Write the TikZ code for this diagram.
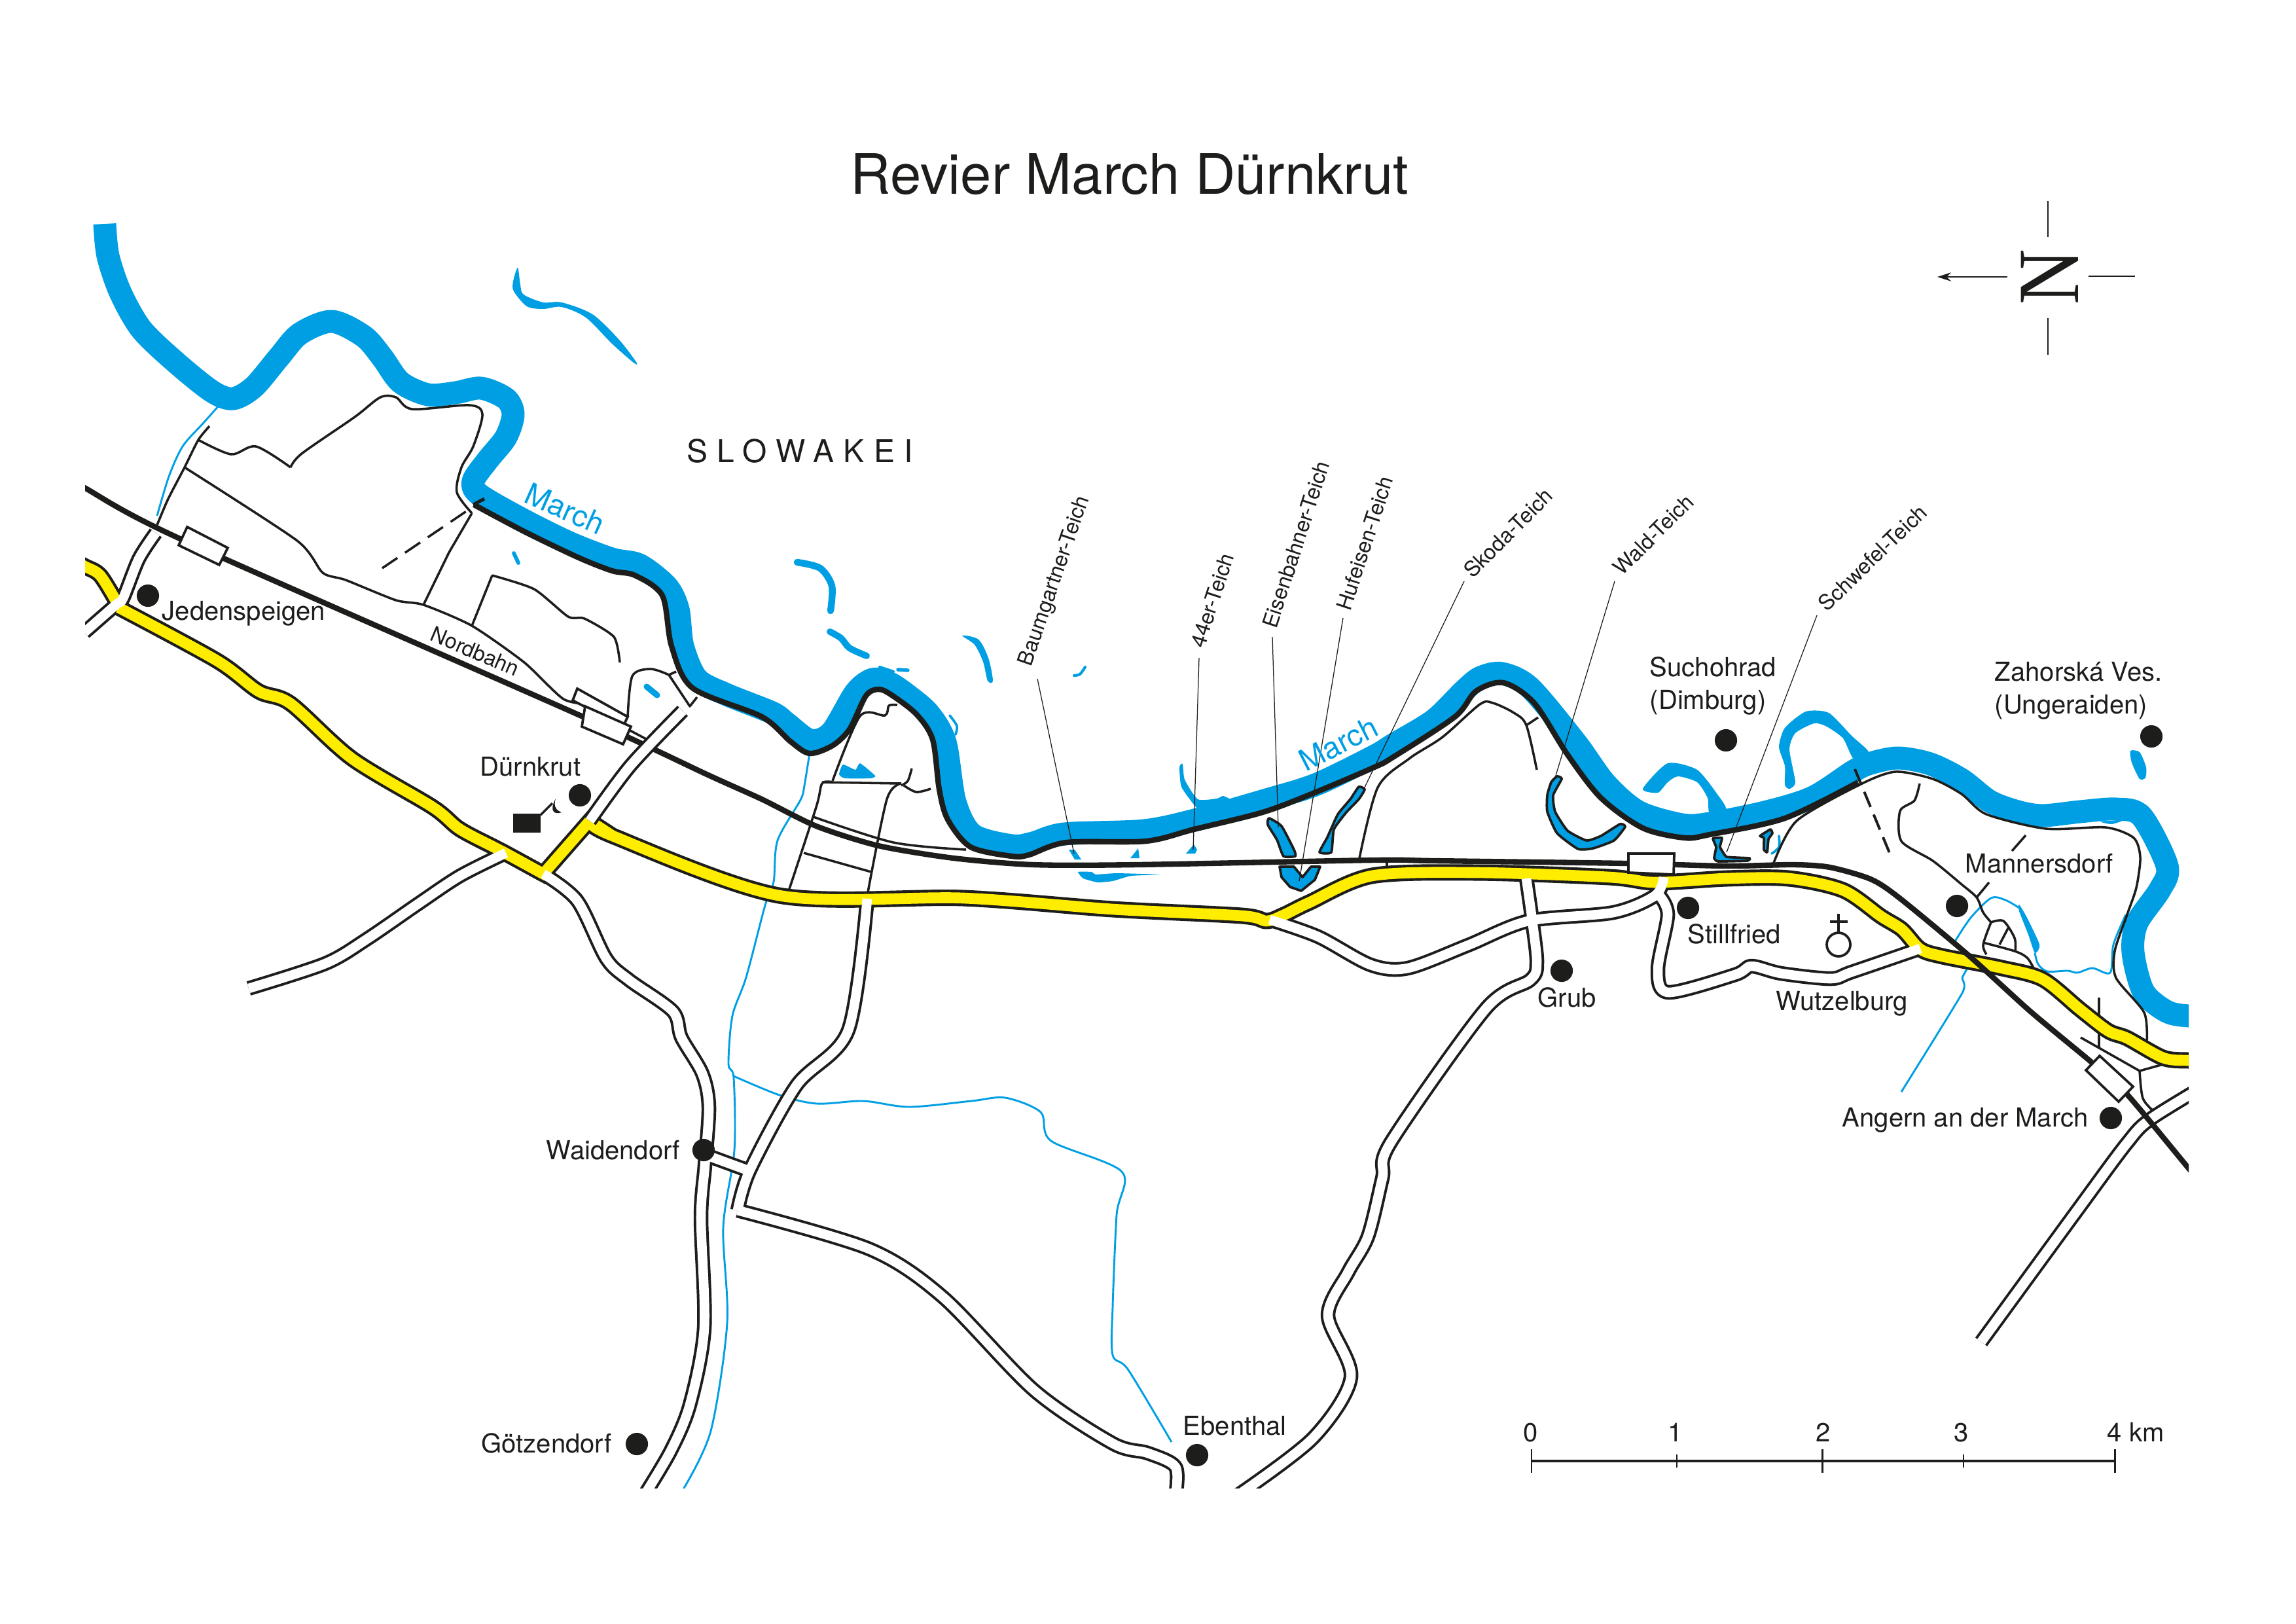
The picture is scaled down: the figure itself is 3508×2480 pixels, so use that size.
\documentclass[tikz,border=0pt]{standalone}
\usepackage{fontspec}
\setmainfont{TeX Gyre Heros}
\newfontfamily\nfont{Liberation Serif}
\usetikzlibrary{arrows.meta}
\definecolor{rivblue}{HTML}{009FE3}
\definecolor{inkblack}{HTML}{1D1D1B}
\definecolor{roadyellow}{HTML}{FFED00}
\tikzset{
  sm/.style={smooth,tension=.5},
  river/.style={draw=rivblue,line width=8.4pt,line join=round},
  bank/.style={draw=inkblack,line width=2pt,line join=round},
  stream/.style={draw=rivblue,line width=.7pt,line join=round},
  track/.style={draw=inkblack,line width=.85pt,line join=round},
  blob/.style={fill=rivblue},
  armline/.style={draw=rivblue,line cap=round},
  pond/.style={fill=rivblue,draw=inkblack,line width=.9pt,line join=round},
  roadcase/.style={draw=inkblack,line width=5.4pt,line join=round},
  roadfill/.style={draw=white,line width=3.5pt,line join=round},
  ycase/.style={draw=inkblack,line width=6pt,line join=round},
  yfill/.style={draw=roadyellow,line width=4pt,line join=round},
  rail/.style={draw=inkblack,line width=2pt,line join=round},
  boxb/.style={draw=inkblack,fill=white,line width=.9pt,line join=miter},
  leader/.style={draw=inkblack,line width=.3pt},
  dot/.style={fill=inkblack},
  lab/.style={inner sep=0pt,text=inkblack,font=\fontsize{9.6}{11.5}\selectfont},
  plab/.style={inner sep=0pt,text=inkblack,font=\fontsize{7.8}{10}\selectfont},
  rlab/.style={inner sep=0pt,text=rivblue,font=\fontsize{11}{13}\selectfont},
}
\newcommand{\allroads}{%
 \R{(129,966)(177,924)(188,914)(212,854)(238,814)}%
 \R{(773,1303)(703,1338)(640,1380)(560,1435)(497,1472)(380,1510)}%
 \R{(830,1335)(882,1376)(926,1464)(961,1497)(1028,1545)(1041,1585)(1073,1640)(1083,1691)(1077,1780)(1071,1860)(1076,2029)(1054,2146)(1025,2216)(984,2285)}%
 \R{(1080,1765)(1140,1787)}%
 \R{(1325,1373)(1296,1574)(1217,1658)(1146,1787)(1127,1849)}%
 \R{(1127,1849)(1328,1908)(1440,1981)(1580,2124)(1700,2205)(1754,2220)(1796,2241)(1796,2285)}%
 \R{(1940,1405)(2014,1431)(2094,1474)(2151,1479)(2243,1444)(2335,1407)(2465,1394)(2529,1368)(2542,1340)}%
 \R{(2332,1342)(2341,1406)(2348,1470)(2338,1497)(2270,1541)(2125,1745)(2112,1800)(2090,1889)(2060,1943)(2029,2010)(2064,2104)(2006,2197)(1890,2285)}%
 \R{(2536,1369)(2548,1398)(2533,1481)(2549,1516)(2651,1489)(2676,1476)(2721,1487)(2797,1495)(2829,1485)(2934,1449)}%
 \R{(3400,1640)(3288,1708)(3250,1746)(3173,1850)(3027,2050)}%
}
\newcommand{\durnroad}{\R{(901,1254)(963,1170)(1043,1086)}}
\newcommand{\yellowroads}{%
 \Y{(100,850)(129,865)(153,879)(179,921)}%
 \Y{(181,928)(331,1009)(395,1056)(444,1075)(538,1159)(661,1233)(703,1267)(766,1300)(830,1335)}%
 \Y{(901,1254)(936,1277)(1190,1368)(1472,1372)(1700,1389)(1897,1399)(1935,1407)(1961,1398)(2000,1379)(2096,1338)(2255,1333)(2459,1340)(2529,1348)(2638,1342)(2733,1342)(2816,1360)(2874,1400)(2906,1420)(2934,1450)(2968,1461)(3059,1479)(3121,1496)(3178,1542)(3221,1575)(3250,1586)(3305,1616)(3344,1620)(3400,1620)}%
}
\begin{document}
\begin{tikzpicture}[x=.24pt,y=-.24pt]
\useasboundingbox (0,0) rectangle (3508,2480);
\fill[white] (0,0) rectangle (3508,2480);
\node[inner sep=0pt,text=inkblack,font=\fontsize{20.4}{24}\selectfont] (title) at (1726,266) {Revier March Dürnkrut};
% north sign
\node[inner sep=0pt,text=inkblack,rotate=90,xscale=.88,font=\fontsize{32}{36}\nfont] (north) at (3132,423) {N};
\coordinate (nt1) at (3129,307); \coordinate (nt2) at (3129,362);
\coordinate (nb1) at (3129,486); \coordinate (nb2) at (3129,542);
\coordinate (nl1) at (3067,423); \coordinate (nl2) at (2960,423);
\coordinate (nr1) at (3191,422); \coordinate (nr2) at (3262,422);
\draw[inkblack,line width=.55pt] (nt1)--(nt2) (nb1)--(nb2) (nr1)--(nr2);
\draw[inkblack,line width=.55pt,-{Stealth[length=5pt,width=3.2pt,inset=1.6pt]}] (nl1)--(nl2);
\begin{scope}
\clip (130,300) rectangle (3344,2273);
% streams
\draw[stream] plot[sm] coordinates {(335,619)(310,647)(279,682)(258,728)(240,788)};
\draw[stream] plot[sm] coordinates {(1237,1150)(1229,1200)(1223,1222)(1188,1284)(1182,1347)(1169,1383)(1140,1493)(1119,1552)(1113,1625)(1121,1647)(1122,1757)(1105,1875)(1111,2021)(1086,2186)(1044,2275)};
\draw[stream] plot[sm] coordinates {(1121,1644)(1191,1673)(1248,1686)(1319,1682)(1389,1691)(1484,1682)(1536,1677)(1590,1699)(1606,1743)(1714,1790)(1706,1856)(1700,1996)(1700,2070)(1724,2093)(1790,2203)};
\draw[stream] plot[smooth,tension=.3] coordinates {(2905,1668)(2998,1517)(2998,1494)(3008,1476)};
\draw[stream] plot[sm] coordinates {(2987,1438)(3011,1402)(3042,1372)(3064,1375)(3085,1387)};
\draw[stream] plot[sm] coordinates {(3109,1456)(3114,1473)(3128,1484)(3159,1483)(3174,1486)(3197,1479)(3224,1486)(3229,1443)(3248,1397)};
% March
\draw[river] plot[sm] coordinates {(160,342)(165,391)(184,447)(216,503)(268,553)(324,598)(356,609)(388,591)(426,546)(458,510)(507,491)(556,514)(584,546)(612,584)(654,603)(696,600)(735,593)(773,609)(784,633)(773,668)(745,703)(723,735)(733,756)(801,795)(872,830)(935,854)(977,863)(1019,896)(1036,931)(1043,987)(1065,1037)(1110,1061)(1180,1089)(1202,1105)(1238,1131)(1270,1119)(1307,1058)(1333,1038)(1358,1043)(1384,1060)(1419,1090)(1444,1134)(1459,1225)(1486,1275)(1546,1292)(1578,1288)(1626,1274)(1748,1269)(1829,1252)(1935,1222)(2012,1198)(2100,1155)(2128,1138)(2191,1100)(2237,1055)(2262,1035)(2295,1029)(2338,1051)(2408,1135)(2453,1197)(2503,1240)(2570,1260)(2612,1258)(2700,1240)(2770,1218)(2832,1178)(2858,1166)(2900,1158)(2949,1167)(2997,1191)(3040,1224)(3083,1240)(3121,1246)(3178,1240)(3233,1236)(3272,1247)(3311,1323)(3300,1359)(3265,1410)(3259,1455)(3275,1515)(3310,1545)(3344,1552)(3400,1552)};
% arms and blobs
\fill[blob] plot[smooth cycle,tension=.5] coordinates {(791,409)(795,435)(800,450)(830,462)(858,462)(905,480)(945,518)(972,553)(968,554)(935,525)(895,485)(858,469)(830,472)(805,468)(785,445)(784,430)};
\draw[armline,line width=1.4pt] (785,845)--(792,860);
\draw[armline,line width=2.2pt] (988,1049)--(1004,1062);
\draw[armline,line width=2.5pt] plot[sm] coordinates {(1218,859)(1253,868)(1271,895)(1269,933)};
\draw[armline,line width=2.4pt] plot[sm] coordinates {(1268,965)(1285,975)(1298,990)(1324,1002)};
\draw[armline,line width=1pt] (1344,1019)--(1365,1026);
\draw[armline,line width=1.3pt] (1372,1023)--(1387,1024);
\fill[blob] plot[smooth cycle,tension=.5] coordinates {(1470,971)(1495,977)(1510,1005)(1517,1040)(1509,1040)(1502,1011)(1489,985)};
\draw[armline,line width=1pt] plot[sm] coordinates {(1658,1019)(1650,1030)(1641,1032)};
\draw[armline,line width=.9pt] plot[sm] coordinates {(1451,1093)(1462,1109)(1460,1122)};
\fill[blob] plot[smooth cycle,tension=.3] coordinates {(1288,1168)(1307,1176)(1314,1166)(1337,1185)(1330,1189)(1291,1189)(1282,1183)};
\fill[blob] (1633,1298)--(1642,1298)--(1652,1313)--(1642,1313)--cycle;
\fill[blob] (1739,1296)--(1741,1311)--(1727,1311)--cycle;
\fill[blob] (1824,1290)--(1829,1298)--(1826,1304)--(1812,1304)--cycle;
\fill[blob] plot[smooth cycle,tension=.25] coordinates {(1647,1332)(1668,1332)(1674,1336)(1706,1334)(1773,1336)(1728,1338)(1700,1346)(1677,1348)(1655,1342)};
\fill[blob] plot[smooth cycle,tension=.35] coordinates {(1802,1172)(1807,1167)(1810,1191)(1830,1221)(1859,1220)(1869,1216)(1883,1225)(1833,1235)(1824,1229)(1805,1202)};
\fill[blob] plot[smooth cycle,tension=.4] coordinates {(2510,1205)(2548,1166)(2593,1176)(2625,1215)(2637,1236)(2612,1242)(2609,1219)(2593,1195)(2564,1186)(2548,1195)(2533,1211)};
\fill[blob] plot[smooth cycle,tension=.4] coordinates {(2718,1141)(2727,1112)(2759,1087)(2794,1089)(2829,1124)(2855,1149)(2832,1159)(2816,1128)(2791,1110)(2772,1105)(2743,1120)(2734,1145)(2743,1195)(2734,1205)(2727,1199)(2727,1170)};
\fill[blob] plot[smooth cycle,tension=.4] coordinates {(3255,1147)(3269,1149)(3279,1172)(3278,1188)(3269,1190)(3257,1165)};
\fill[blob] plot[smooth cycle,tension=.4] coordinates {(3209,1255)(3244,1253)(3226,1259)};
\fill[blob] plot[smooth cycle,tension=.4] coordinates {(3085,1382)(3097,1402)(3116,1443)(3109,1456)(3099,1428)(3085,1392)};
\draw[armline,line width=.9pt] plot[sm] coordinates {(2718,1277)(2718,1294)(2707,1304)};
% outlined ponds
\draw[pond] plot[smooth cycle,tension=.3] coordinates {(1939,1250)(1958,1262)(1977,1298)(1979,1308)(1961,1308)(1951,1283)(1937,1260)};
\draw[pond] (1955,1324)--(1977,1324)--(1990,1340)--(2003,1324)--(2017,1324)--(2009,1344)--(1988,1361)--(1971,1355)--(1958,1340)--cycle;
\draw[pond] plot[smooth cycle,tension=.3] coordinates {(2076,1202)(2085,1206)(2076,1221)(2057,1241)(2038,1267)(2034,1302)(2016,1302)(2028,1279)(2044,1244)(2063,1221)};
\draw[pond] plot[smooth cycle,tension=.3] coordinates {(2379,1186)(2386,1190)(2373,1215)(2376,1240)(2395,1269)(2424,1284)(2446,1277)(2475,1259)(2483,1263)(2466,1284)(2434,1296)(2411,1297)(2379,1273)(2364,1240)(2364,1215)(2370,1195)};
\draw[pond] plot[smooth cycle,tension=.2] coordinates {(2617,1281)(2631,1280)(2628,1294)(2638,1309)(2673,1311)(2670,1315)(2625,1316)(2619,1311)(2622,1294)};
\draw[pond] plot[smooth cycle,tension=.2] coordinates {(2689,1277)(2705,1267)(2708,1273)(2702,1282)(2700,1302)(2695,1298)(2695,1280)};
% black bank
\draw[bank] plot[sm] coordinates {(724,771)(801,812)(882,851)(935,872)(970,879)(1012,910)(1026,987)(1058,1051)(1164,1095)(1208,1133)(1237,1151)(1272,1139)(1298,1114)(1323,1063)(1342,1053)(1361,1061)(1400,1091)(1425,1130)(1435,1206)(1448,1252)(1483,1294)(1546,1308)(1572,1306)(1629,1287)(1751,1285)(1824,1267)(1929,1241)(2006,1212)(2100,1172)(2128,1157)(2223,1095)(2255,1056)(2297,1043)(2344,1074)(2395,1153)(2446,1219)(2510,1265)(2574,1280)(2612,1275)(2727,1250)(2839,1195)};
\draw[bank,line width=1.2pt] (723,771)--(740,762);
% tracks
\draw[track] plot[sm] coordinates {(303,672)(353,694)(391,682)(444,714)};
\draw[track] plot[sm] coordinates {(444,714)(461,693)(542,637)(581,607)(605,607)(630,625)(717,619)(737,633)(723,682)(705,714)(698,752)(721,784)};
\draw[track] (721,784)--(686,844)--(647,924);
\draw[track] plot[smooth,tension=.4] coordinates {(282,714)(454,826)(493,875)(528,886)(605,917)(647,924)(721,956)(801,1012)(861,1068)(907,1077)};
\draw[track] (721,956)--(752,879);
\draw[track] plot[smooth,tension=.4] coordinates {(752,879)(816,900)(868,942)(893,945)(938,973)(947,1012)};
\draw[track] plot[smooth,tension=.4] coordinates {(240,802)(257,762)(282,714)(303,672)(320,651)};
\draw[track,dash pattern=on 6.7pt off 3.4pt] (584,868)--(714,780);
\draw[track] plot[sm] coordinates {(959,1096)(966,1033)(994,1022)(1022,1031)};
\draw[track] (1022,1031)--(1054,1079)--(1065,1065);
\draw[track] (1022,1031)--(1033,1026);
\draw[track] (959,1114)--(991,1131);
\draw[track] plot[sm] coordinates {(1371,1077)(1358,1078)(1352,1093)(1314,1094)(1272,1193)};
\draw[track] plot[sm] coordinates {(1272,1195)(1256,1197)(1247,1233)(1205,1361)};
\draw[track] (1256,1195)--(1377,1197);
\draw[track] plot[sm] coordinates {(1377,1197)(1355,1221)(1326,1363)};
\draw[track] plot[sm] coordinates {(1393,1174)(1387,1193)(1377,1200)};
\draw[track] plot[sm] coordinates {(1381,1200)(1400,1210)(1422,1205)};
\draw[track] (1228,1303)--(1331,1332);
\draw[track] plot[sm] coordinates {(1243,1248)(1365,1287)(1476,1298)};
\draw[track] plot[sm] coordinates {(2077,1311)(2105,1203)(2153,1159)(2204,1126)(2261,1076)(2281,1074)(2313,1089)(2332,1108)(2348,1176)};
\draw[track] (2332,1108)--(2350,1096);
\draw[track] (2119,1317)--(2119,1329);
\draw[track] plot[smooth,tension=.45] coordinates {(2710,1318)(2745,1254)(2843,1198)(2896,1179)(2953,1190)(2997,1213)(3035,1244)(3126,1266)(3217,1264)(3260,1280)(3270,1310)(3264,1356)(3250,1397)(3231,1453)(3233,1494)(3276,1547)(3280,1593)};
\draw[track,line width=.96pt,dash pattern=on 6pt off 3pt] (2834,1175)--(2889,1308);
\draw[track] plot[smooth,tension=.45] coordinates {(2933,1197)(2925,1223)(2903,1239)(2905,1285)(2953,1315)(2997,1351)(3020,1371)(3030,1394)(3042,1409)};
\draw[track] (3095,1276)--(3074,1300);
\draw[track] (3039,1348)--(3020,1371);
\draw[track] plot[sm] coordinates {(3042,1409)(3061,1407)(3078,1433)(3079,1453)};
\draw[track] plot[sm] coordinates {(3042,1409)(3030,1443)(3035,1458)};
\draw[track] plot[sm] coordinates {(3030,1440)(3078,1453)(3097,1463)(3107,1479)};
\draw[track] (3068,1418)--(3055,1443);
\draw[track] (3207,1524)--(3207,1601);
\draw[track] (3179,1585)--(3269,1636);
\draw[track] plot[sm] coordinates {(3269,1636)(3312,1624)};
\draw[track] plot[sm] coordinates {(3269,1636)(3274,1678)(3292,1699)};
% roads: casings
\def\R#1{\draw[roadcase] plot[sm] coordinates {#1};}
\allroads
% yellow: casings, then fills, with the mitred corner at Dürnkrut
\def\Y#1{\draw[ycase] plot[sm] coordinates {#1};}
\yellowroads
\draw[ycase,line join=miter] (766,1300)--(830,1335)--(901,1254)--(936,1277);
\def\Y#1{\draw[yfill] plot[sm] coordinates {#1};}
\yellowroads
\draw[yfill,line join=miter] (766,1300)--(830,1335)--(901,1254)--(936,1277);
% roads: white
\def\R#1{\draw[roadfill] plot[sm] coordinates {#1};}
\allroads
% rail
\draw[rail] plot[smooth,tension=.45] coordinates {(100,730)(129,745)(275,823)(893,1096)(1082,1184)(1164,1221)(1247,1262)(1342,1292)(1457,1311)(1578,1321)(1738,1321)(2100,1314)(2191,1315)(2485,1319)(2638,1323)(2740,1321)(2796,1325)(2858,1343)(2901,1371)(3006,1458)(3102,1545)(3197,1624)(3250,1672)(3344,1785)(3370,1815)};
\def\R#1{\draw[roadcase] plot[sm] coordinates {#1};}
\durnroad
\def\R#1{\draw[roadfill] plot[sm] coordinates {#1};}
\durnroad
% stations
\draw[boxb] (286,805)--(348,837)--(335,863)--(273,833)--cycle;
\draw[boxb] (882,1052)--(959,1095)--(952,1110)--(875,1070)--cycle;
\draw[boxb] (894,1079)--(964,1110)--(952,1137)--(889,1110)--cycle;
\draw[boxb] (2488,1304)--(2558,1304)--(2557,1336)--(2488,1333)--cycle;
\draw[boxb] (3208,1613)--(3259,1660)--(3237,1683)--(3187,1635)--cycle;
\end{scope}
% leaders
\draw[leader] (1585,1037)--(1641,1304);
\draw[leader] (1832,1005)--(1823,1298);
\draw[leader] (1944,973)--(1953,1264);
\draw[leader] (2052,944)--(1985,1346);
\draw[leader] (2237,888)--(2083,1207);
\draw[leader] (2467,888)--(2376,1188);
\draw[leader] (2776,940)--(2638,1302);
% castle
\fill[inkblack] (784,1243) rectangle (826,1272);
\draw[inkblack,line width=.8pt] (826,1245)--(844,1227);
\fill[inkblack] (849,1220) .. controls (845,1232) and (850,1238) .. (858,1241) .. controls (848,1245) and (838,1240) .. (849,1220);
% dots
\foreach \n/\p in {djed/{(226,910)},ddur/{(886,1215)},dwai/{(1075,1757)},dgoe/{(973,2206)},debe/{(1829,2223)},dgru/{(2386,1483)},dsti/{(2579,1387)},dsuc/{(2637,1131)},dzah/{(3287,1125)},dman/{(2990,1384)},dang/{(3225,1708)}}
  \node[dot,circle,inner sep=0pt,minimum size=8.2pt] (\n) at \p {};
% grave symbol
\draw[inkblack,line width=.9pt] (2809,1443) circle [radius=18];
\draw[inkblack,line width=.9pt] (2809,1396)--(2809,1425) (2796,1408)--(2823,1408);
% labels
\node[lab,anchor=base west] (ljed) at (247,947) {Jedenspeigen};
\node[lab,anchor=base west] (ldur) at (733,1185) {Dürnkrut};
\node[lab,anchor=base west] (lwai) at (834,1771) {Waidendorf};
\node[lab,anchor=base west] (lgoe) at (735,2219) {Götzendorf};
\node[lab,anchor=base west] (lebe) at (1807,2192) {Ebenthal};
\node[lab,anchor=base west] (lgru) at (2349,1538) {Grub};
\node[lab,anchor=base west] (lsti) at (2578,1441) {Stillfried};
\node[lab,anchor=base west] (lwut) at (2713,1543) {Wutzelburg};
\node[lab,anchor=base west] (lsuc) at (2520,1033) {Suchohrad};
\node[lab,anchor=base west] (ldim) at (2520,1083) {(Dimburg)};
\node[lab,anchor=base west] (lzah) at (3047,1040) {Zahorská Ves.};
\node[lab,anchor=base west] (lung) at (3047,1090) {(Ungeraiden)};
\node[lab,anchor=base west] (lman) at (3002,1333) {Mannersdorf};
\node[lab,anchor=base west] (lang) at (2814,1721) {Angern an der March};
\node[inner sep=0pt,text=inkblack,font=\fontsize{11.5}{14}\selectfont\addfontfeature{LetterSpace=30}] (lslo) at (1222,689) {SLOWAKEI};
\node[rlab,rotate=-24] (lm1) at (863,777) {March};
\node[rlab,rotate=27] (lm2) at (2045,1136) {March};
\node[plab,rotate=-23] (lnor) at (726,995) {Nordbahn};
\node[plab,rotate=71] (lbau) at (1612,888) {Baumgartner-Teich};
\node[plab,rotate=72] (l44) at (1852,917) {44er-Teich};
\node[plab,rotate=72] (leis) at (1980,832) {Eisenbahner-Teich};
\node[plab,rotate=72] (lhuf) at (2085,830) {Hufeisen-Teich};
\node[plab,rotate=45] (lsko) at (2304,814) {Skoda-Teich};
\node[plab,rotate=45] (lwal) at (2526,817) {Wald-Teich};
\node[plab,rotate=44] (lsch) at (2861,852) {Schwefel-Teich};
% scale bar
\draw[inkblack,line width=.95pt] (2340,2232)--(3231,2232);
\draw[inkblack,line width=.7pt] (2340,2214)--(2340,2250) (2784,2214)--(2784,2250) (3231,2214)--(3231,2250);
\draw[inkblack,line width=.35pt] (2562,2222)--(2562,2242) (3000,2222)--(3000,2242);
\node[lab,anchor=base] (s0) at (2339,2202) {0};
\node[lab,anchor=base] (s1) at (2560,2202) {1};
\node[lab,anchor=base] (s2) at (2786,2202) {2};
\node[lab,anchor=base] (s3) at (2997,2202) {3};
\node[lab,anchor=base west] (s4) at (3219,2202) {4 km};
\end{tikzpicture}
\end{document}
